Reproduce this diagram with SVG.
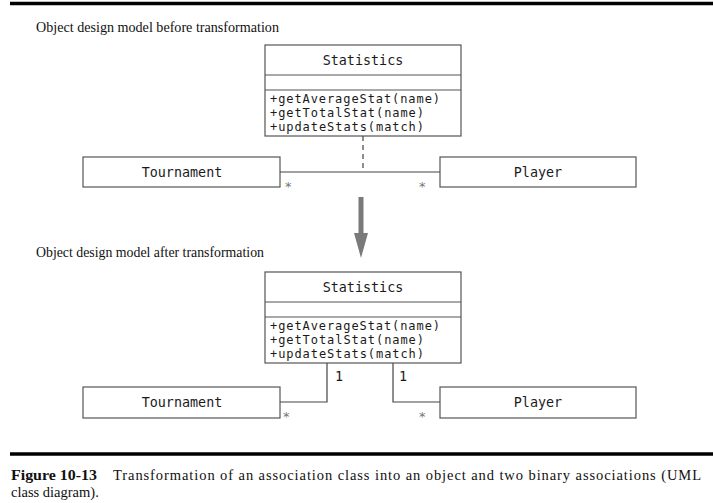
<svg xmlns="http://www.w3.org/2000/svg" width="713" height="503" viewBox="0 0 713 503">
<style>
.rule{stroke:#000;stroke-width:3.5}
.box{fill:#fff;stroke:#555;stroke-width:1.2}
.div{stroke:#555;stroke-width:1.2}
.mono{font-family:"DejaVu Sans Mono","Liberation Mono",monospace;font-size:13.4px;fill:#1a1a1a}
.meth{font-family:"DejaVu Sans Mono","Liberation Mono",monospace;font-size:12px;fill:#1a1a1a}
.ser{font-family:"Liberation Serif","Times New Roman",serif;font-size:14px;fill:#111}
.cap{font-family:"Liberation Serif","Times New Roman",serif;font-size:14.5px;fill:#111}
.star{font-family:"DejaVu Sans",sans-serif;font-size:13px;fill:#777}
.conn{fill:none;stroke:#444;stroke-width:1.2}
</style>
<rect width="713" height="503" fill="#fff"/>
<line class="rule" x1="10" y1="3.5" x2="713" y2="3.5"/>
<text class="ser" x="36" y="32" textLength="243" lengthAdjust="spacingAndGlyphs">Object design model before transformation</text>

<g id="stats1">
<rect class="box" x="265" y="45" width="196" height="91"/>
<line class="div" x1="265" y1="75" x2="461" y2="75"/>
<line class="div" x1="265" y1="90" x2="461" y2="90"/>
<text class="mono" x="363" y="65" text-anchor="middle">Statistics</text>
<text class="meth" x="270" y="103" textLength="170">+getAverageStat(name)</text>
<text class="meth" x="270" y="117" textLength="154">+getTotalStat(name)</text>
<text class="meth" x="270" y="131" textLength="154">+updateStats(match)</text>
</g>
<g id="tournament1">
<rect class="box" x="83" y="157" width="197" height="30"/>
<text class="mono" x="182" y="177" text-anchor="middle">Tournament</text>
</g>
<g id="player1">
<rect class="box" x="440" y="157" width="196" height="30"/>
<text class="mono" x="538" y="177" text-anchor="middle">Player</text>
</g>

<g id="connectors">
<line class="conn" x1="280" y1="172" x2="440" y2="172"/>
<line class="conn" x1="363" y1="136" x2="363" y2="172" stroke-dasharray="5,4"/>
<text class="star" x="285" y="191">*</text>
<text class="star" x="419" y="191">*</text>
<path d="M358.5 197 H363.5 V233 H368 L361 258 L354 233 H358.5 Z" fill="#7a7a7a"/>
<polyline class="conn" points="327,363 327,402 280,402"/>
<polyline class="conn" points="393,363 393,402 440,402"/>
<text class="mono" x="335" y="381">1</text>
<text class="mono" x="399" y="381">1</text>
<text class="star" x="283" y="421">*</text>
<text class="star" x="419" y="421">*</text>
</g>

<text class="ser" x="36" y="257" textLength="228" lengthAdjust="spacingAndGlyphs">Object design model after transformation</text>

<g id="stats2">
<rect class="box" x="265" y="272" width="196" height="91"/>
<line class="div" x1="265" y1="302" x2="461" y2="302"/>
<line class="div" x1="265" y1="317" x2="461" y2="317"/>
<text class="mono" x="363" y="292" text-anchor="middle">Statistics</text>
<text class="meth" x="270" y="330" textLength="170">+getAverageStat(name)</text>
<text class="meth" x="270" y="344" textLength="154">+getTotalStat(name)</text>
<text class="meth" x="270" y="358" textLength="154">+updateStats(match)</text>
</g>
<g id="tournament2">
<rect class="box" x="83" y="387" width="197" height="31"/>
<text class="mono" x="182" y="407" text-anchor="middle">Tournament</text>
</g>
<g id="player2">
<rect class="box" x="440" y="387" width="196" height="31"/>
<text class="mono" x="538" y="407" text-anchor="middle">Player</text>
</g>

<line class="rule" x1="10" y1="454" x2="713" y2="454"/>
<text class="cap" x="11" y="480"><tspan font-weight="bold" font-size="15.5px" textLength="86" lengthAdjust="spacingAndGlyphs">Figure 10-13</tspan><tspan x="113" textLength="588">Transformation of an association class into an object and two binary associations (UML</tspan></text>
<text class="cap" x="11" y="497">class diagram).</text>
</svg>
